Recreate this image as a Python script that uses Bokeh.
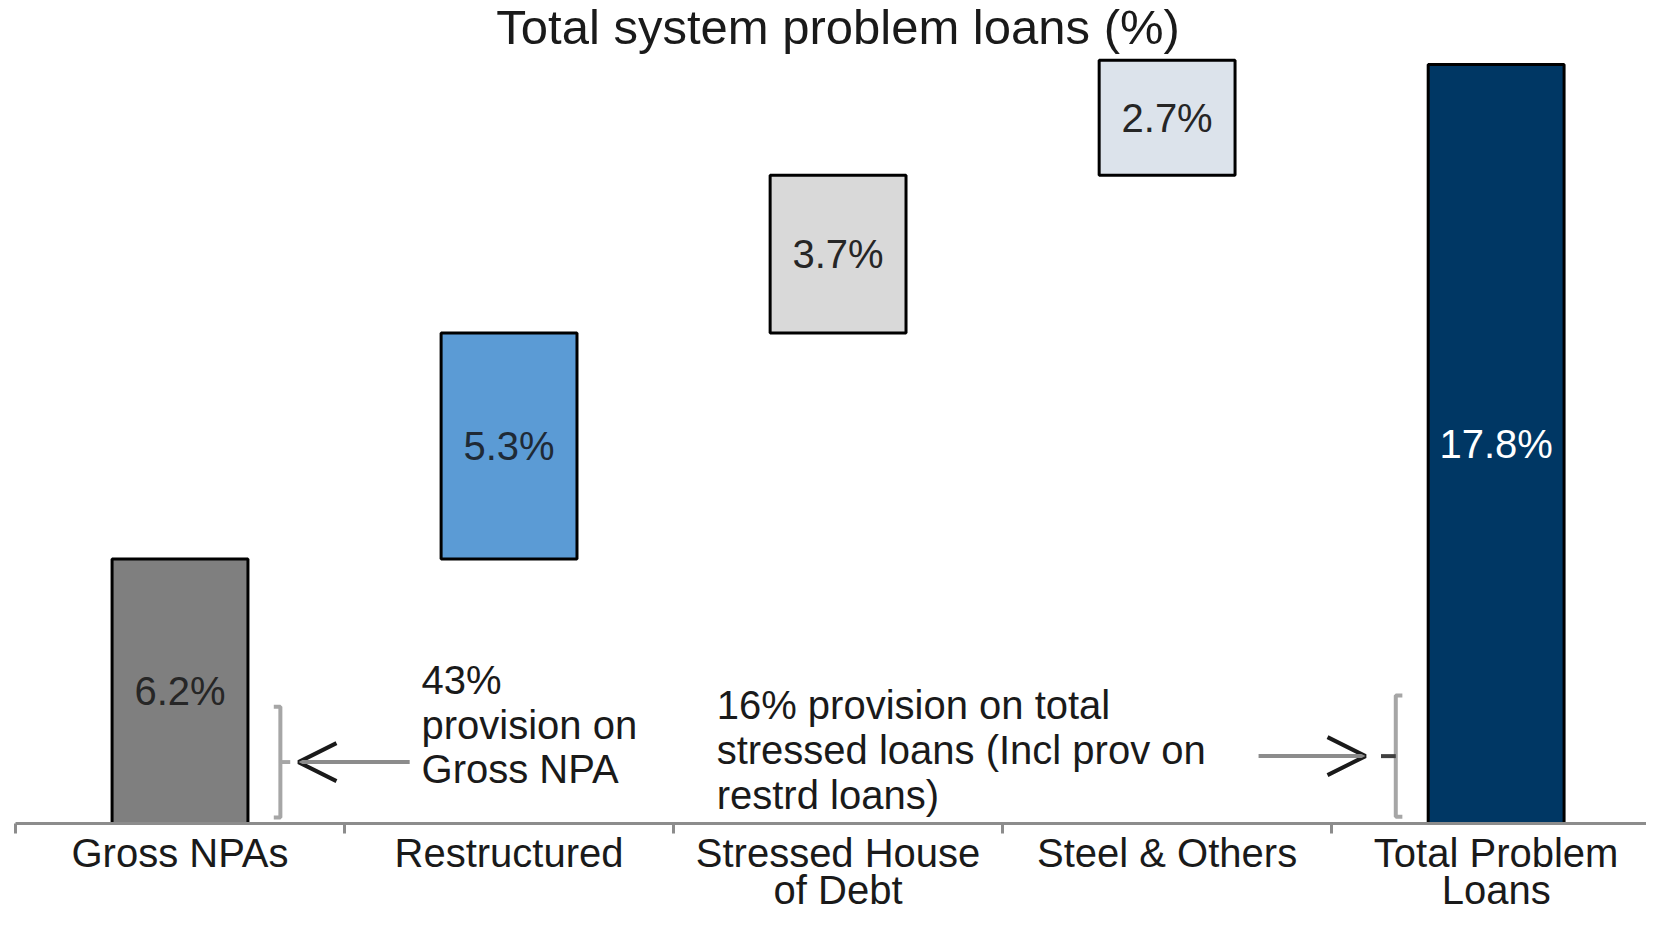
import numpy as np
from bokeh.plotting import figure
from bokeh.models import Range1d, FixedTicker, Arrow, OpenHead
from bokeh.embed import file_html
from bokeh.resources import INLINE
from bokeh.core.properties import value

# ---- data ----
categories = ["Gross NPAs", "Restructured", "Stressed House\nof Debt", "Steel & Others", "Total Problem\nLoans"]
values = [6.2, 5.3, 3.7, 2.7, 17.8]
is_total = [False, False, False, False, True]
value_labels = ["6.2%", "5.3%", "3.7%", "2.7%", "17.8%"]
bar_colors = ["#7f7f7f", "#5b9bd5", "#d9d9d9", "#dce3eb", "#003764"]
label_colors = ["#262626", "#1f2a36", "#262626", "#262626", "#ffffff"]
provision_npa = 2.6      # bracket height next to Gross NPAs (pct pts)
provision_total = 2.84   # bracket height next to Total Problem Loans (pct pts)
note_left = ["43%", "provision on", "Gross NPA"]
note_right = ["16% provision on total", "stressed loans (Incl prov on", "restrd loans)"]
title_text = "Total system problem loans (%)"

FONT = "Liberation Sans"

# waterfall positions
vals = np.array(values)
bottoms = []
run = 0.0
for v, t in zip(vals, is_total):
    if t:
        bottoms.append(0.0)
    else:
        bottoms.append(run)
        run += v
bottoms = np.array(bottoms)
tops = bottoms + vals
xs = np.arange(len(categories)) + 0.5

W, H = 1646, 914
p = figure(width=W, height=H, x_range=Range1d(0, 4.957), y_range=Range1d(0, 19.30),
           output_backend="svg", toolbar_location=None,
           min_border_left=15, min_border_right=0, min_border_top=0, min_border_bottom=90)
p.outline_line_color = None
p.xgrid.visible = False
p.ygrid.visible = False
p.yaxis.visible = False
p.background_fill_color = "white"
p.border_fill_color = "white"

p.vbar(x=xs, width=0.413, bottom=bottoms, top=tops, fill_color=bar_colors,
       line_color="black", line_width=3)

p.text(x=xs, y=(bottoms + tops) / 2, text=value_labels, text_color=label_colors,
       text_align="center", text_baseline="middle", text_font_size="40px",
       text_font=value(FONT))

# category axis (ticks at category boundaries, labels at centres)
ax = p.xaxis[0]
ax.ticker = FixedTicker(ticks=list(xs), minor_ticks=list(range(len(categories) + 1)))
ax.major_label_overrides = {float(x): c for x, c in zip(xs, categories)}
ax.major_tick_line_color = None
ax.major_tick_out = 0
ax.major_tick_in = 0
ax.minor_tick_out = 10
ax.minor_tick_in = 0
ax.minor_tick_line_color = "#8c8c8c"
ax.minor_tick_line_width = 3
ax.axis_line_color = "#8c8c8c"
ax.axis_line_width = 3
ax.major_label_text_font_size = "40px"
ax.major_label_text_font = FONT
ax.major_label_text_color = "#1a1a1a"
ax.major_label_text_line_height = 0.85
ax.major_label_standoff = -3

# title
p.text(x=[2.5], y=[18.68], text=[title_text], text_align="center", text_baseline="middle",
       text_font_size="49px", text_font=value(FONT), text_color="#1a1a1a")

# brackets
gray = "#a6a6a6"
lb0, rb0 = 0.14, 0.16
lx = 0.805
rx = 4.195
stub = 0.02
p.multi_line(xs=[[lx - stub, lx, lx, lx - stub], [lx, lx + 0.03],
                 [rx + stub, rx, rx, rx + stub], [rx, rx - 0.045]],
             ys=[[lb0 + provision_npa, lb0 + provision_npa, lb0, lb0],
                 [lb0 + provision_npa / 2] * 2,
                 [rb0 + provision_total, rb0 + provision_total, rb0, rb0],
                 [rb0 + provision_total / 2] * 2],
             line_color=[gray, gray, gray, "#404040"], line_width=4)

yl = lb0 + provision_npa / 2
yr = rb0 + provision_total / 2
p.add_layout(Arrow(end=OpenHead(size=38, line_color="#1a1a1a", line_width=4),
                   x_start=1.198, y_start=yl, x_end=0.860, y_end=yl,
                   line_color="#8c8c8c", line_width=4))
p.add_layout(Arrow(end=OpenHead(size=38, line_color="#1a1a1a", line_width=4),
                   x_start=3.778, y_start=yr, x_end=4.103, y_end=yr,
                   line_color="#8c8c8c", line_width=4))

# notes
sp = 1.05
p.text(x=[1.234] * 3, y=[3.37 - i * sp for i in range(3)], text=note_left,
       text_align="left", text_baseline="middle", text_font_size="40px",
       text_font=value(FONT), text_color="#1a1a1a")
p.text(x=[2.131] * 3, y=[2.78 - i * sp for i in range(3)], text=note_right,
       text_align="left", text_baseline="middle", text_font_size="40px",
       text_font=value(FONT), text_color="#1a1a1a")

open("out.html", "w").write(file_html(p, INLINE))
